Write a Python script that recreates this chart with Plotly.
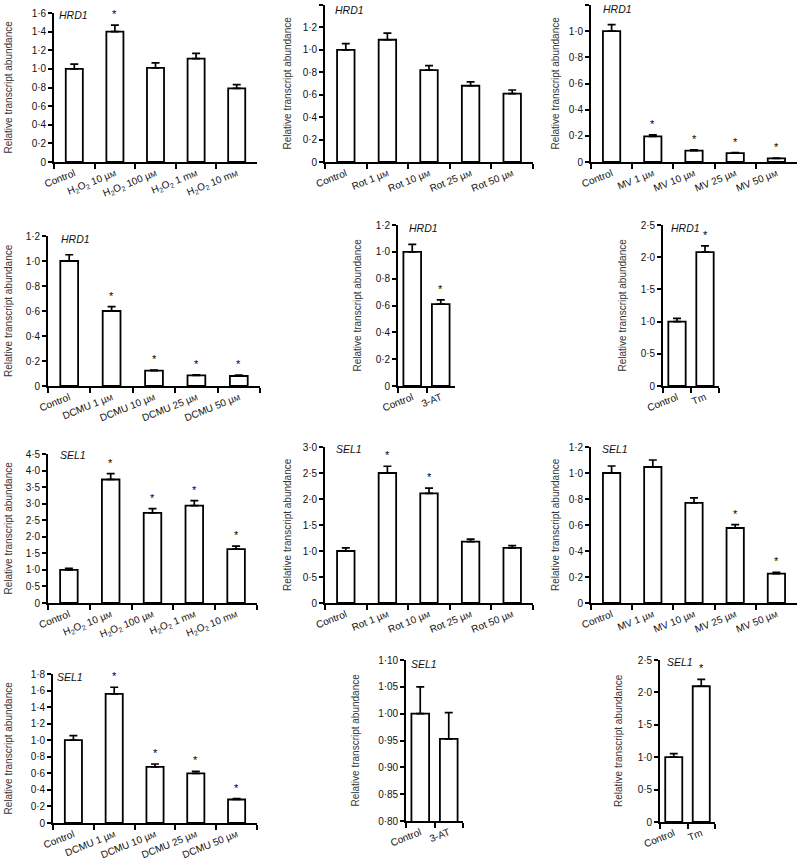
import plotly.graph_objects as go

# ---------------- data ----------------
M = "<span style='font-size:7.5px'>M</span>"
h2o2_cats = ["Control", f"H<sub>2</sub>O<sub>2</sub> 10 µ{M}", f"H<sub>2</sub>O<sub>2</sub> 100 µ{M}",
             f"H<sub>2</sub>O<sub>2</sub> 1 m{M}", f"H<sub>2</sub>O<sub>2</sub> 10 m{M}"]
rot_cats = ["Control", f"Rot 1 µ{M}", f"Rot 10 µ{M}", f"Rot 25 µ{M}", f"Rot 50 µ{M}"]
mv_cats = ["Control", f"MV 1 µ{M}", f"MV 10 µ{M}", f"MV 25 µ{M}", f"MV 50 µ{M}"]
dcmu_cats = ["Control", f"DCMU 1 µ{M}", f"DCMU 10 µ{M}", f"DCMU 25 µ{M}", f"DCMU 50 µ{M}"]
at_cats = ["Control", "3-AT"]
tm_cats = ["Control", "Tm"]

hrd1_h2o2_vals = [1.00, 1.40, 1.01, 1.11, 0.79]
hrd1_h2o2_errs = [0.05, 0.07, 0.055, 0.057, 0.04]
hrd1_h2o2_sig = [0, 1, 0, 0, 0]

hrd1_rot_vals = [1.00, 1.09, 0.82, 0.68, 0.61]
hrd1_rot_errs = [0.055, 0.06, 0.04, 0.035, 0.032]
hrd1_rot_sig = [0, 0, 0, 0, 0]

hrd1_mv_vals = [1.00, 0.196, 0.087, 0.068, 0.028]
hrd1_mv_errs = [0.05, 0.012, 0.005, 0.003, 0.002]
hrd1_mv_sig = [0, 1, 1, 1, 1]

hrd1_dcmu_vals = [1.00, 0.60, 0.123, 0.085, 0.08]
hrd1_dcmu_errs = [0.05, 0.035, 0.005, 0.004, 0.008]
hrd1_dcmu_sig = [0, 1, 1, 1, 1]

hrd1_at_vals = [1.00, 0.61]
hrd1_at_errs = [0.055, 0.032]
hrd1_at_sig = [0, 1]

hrd1_tm_vals = [1.00, 2.08]
hrd1_tm_errs = [0.05, 0.095]
hrd1_tm_sig = [0, 1]

sel1_h2o2_vals = [1.00, 3.73, 2.72, 2.94, 1.63]
sel1_h2o2_errs = [0.05, 0.18, 0.13, 0.15, 0.09]
sel1_h2o2_sig = [0, 1, 1, 1, 1]

sel1_rot_vals = [1.00, 2.50, 2.11, 1.18, 1.06]
sel1_rot_errs = [0.06, 0.13, 0.10, 0.05, 0.045]
sel1_rot_sig = [0, 1, 1, 0, 0]

sel1_mv_vals = [1.00, 1.046, 0.77, 0.577, 0.226]
sel1_mv_errs = [0.054, 0.054, 0.038, 0.026, 0.01]
sel1_mv_sig = [0, 0, 0, 1, 1]

sel1_dcmu_vals = [1.00, 1.56, 0.677, 0.60, 0.284]
sel1_dcmu_errs = [0.055, 0.08, 0.036, 0.025, 0.012]
sel1_dcmu_sig = [0, 1, 1, 1, 1]

sel1_at_vals = [1.00, 0.953]
sel1_at_errs = [0.05, 0.049]
sel1_at_sig = [0, 0]

sel1_tm_vals = [1.00, 2.095]
sel1_tm_errs = [0.055, 0.105]
sel1_tm_sig = [0, 1]

ticks_1_6 = [0, 0.2, 0.4, 0.6, 0.8, 1.0, 1.2, 1.4, 1.6]
ticks_1_4 = [0, 0.2, 0.4, 0.6, 0.8, 1.0, 1.2, 1.4]
ticks_1_2 = [0, 0.2, 0.4, 0.6, 0.8, 1.0, 1.2]
ticks_1_8 = [0, 0.2, 0.4, 0.6, 0.8, 1.0, 1.2, 1.4, 1.6, 1.8]
ticks_2_5 = [0, 0.5, 1.0, 1.5, 2.0, 2.5]
ticks_3_0 = [0, 0.5, 1.0, 1.5, 2.0, 2.5, 3.0]
ticks_4_5 = [0, 0.5, 1.0, 1.5, 2.0, 2.5, 3.0, 3.5, 4.0, 4.5]
ticks_sel1_at = [0.80, 0.85, 0.90, 0.95, 1.00, 1.05, 1.10]

ytitle = "Relative transcript abundance"


def fmt(v, nd):
    if v == 0:
        return "0"
    return f"{v:.{nd}f}".replace(".", "·")


# panel: gene, cats, vals, errs, sig, ticks, decimals, geometry (px)
panels = [
    ("HRD1", h2o2_cats, hrd1_h2o2_vals, hrd1_h2o2_errs, hrd1_h2o2_sig, ticks_1_6, 1,
     dict(x0=54, x1=257, yt=13, yb=162, tx=8, gx=57, gy=15)),
    ("HRD1", rot_cats, hrd1_rot_vals, hrd1_rot_errs, hrd1_rot_sig, ticks_1_4, 1,
     dict(x0=325, x1=533, yt=5, yb=162, tx=287, gx=333, gy=10)),
    ("HRD1", mv_cats, hrd1_mv_vals, hrd1_mv_errs, hrd1_mv_sig, ticks_1_2, 1,
     dict(x0=591, x1=797, yt=5, yb=162, tx=555, gx=601, gy=9)),
    ("HRD1", dcmu_cats, hrd1_dcmu_vals, hrd1_dcmu_errs, hrd1_dcmu_sig, ticks_1_2, 1,
     dict(x0=48, x1=260, yt=236, yb=386, tx=8, gx=59, gy=239)),
    ("HRD1", at_cats, hrd1_at_vals, hrd1_at_errs, hrd1_at_sig, ticks_1_2, 1,
     dict(x0=398, x1=455, yt=225, yb=386, tx=357, gx=407, gy=228)),
    ("HRD1", tm_cats, hrd1_tm_vals, hrd1_tm_errs, hrd1_tm_sig, ticks_2_5, 1,
     dict(x0=663, x1=719, yt=225, yb=386, tx=622, gx=669, gy=228)),
    ("SEL1", h2o2_cats, sel1_h2o2_vals, sel1_h2o2_errs, sel1_h2o2_sig, ticks_4_5, 1,
     dict(x0=48, x1=257, yt=454, yb=603, tx=8, gx=58, gy=455)),
    ("SEL1", rot_cats, sel1_rot_vals, sel1_rot_errs, sel1_rot_sig, ticks_3_0, 1,
     dict(x0=325, x1=533, yt=447, yb=603, tx=287, gx=334, gy=449)),
    ("SEL1", mv_cats, sel1_mv_vals, sel1_mv_errs, sel1_mv_sig, ticks_1_2, 1,
     dict(x0=591, x1=797, yt=447, yb=603, tx=555, gx=600, gy=449)),
    ("SEL1", dcmu_cats, sel1_dcmu_vals, sel1_dcmu_errs, sel1_dcmu_sig, ticks_1_8, 1,
     dict(x0=53, x1=257, yt=674, yb=823, tx=8, gx=55, gy=677)),
    ("SEL1", at_cats, sel1_at_vals, sel1_at_errs, sel1_at_sig, ticks_sel1_at, 2,
     dict(x0=406, x1=463, yt=660, yb=821, tx=355, gx=409, gy=664)),
    ("SEL1", tm_cats, sel1_tm_vals, sel1_tm_errs, sel1_tm_sig, ticks_2_5, 1,
     dict(x0=660, x1=715, yt=660, yb=822, tx=618, gx=665, gy=662)),
]

W, H = 800, 866
FONT = "Liberation Sans, Arial, Helvetica, sans-serif"
TXT = "#111111"

fig = go.Figure()
layout = {}
annotations = []

for i, (gene, cats, vals, errs, sig, ticks, nd, g) in enumerate(panels, start=1):
    xa = "x" if i == 1 else f"x{i}"
    ya = "y" if i == 1 else f"y{i}"
    n = len(cats)
    bw = 0.42 if n > 2 else 0.62
    fig.add_trace(go.Bar(
        x=cats, y=vals, xaxis=xa, yaxis=ya, width=bw,
        marker=dict(color="white", line=dict(color="black", width=1.8)),
        error_y=dict(type="data", array=errs, arrayminus=[0] * n, symmetric=False,
                     color="black", thickness=1.7, width=4),
        hoverinfo="skip",
    ))
    xkey = "xaxis" if i == 1 else f"xaxis{i}"
    ykey = "yaxis" if i == 1 else f"yaxis{i}"
    layout[xkey] = dict(
        domain=[g["x0"] / W, g["x1"] / W], anchor=ya, type="category",
        range=[-0.5, n - 0.5], tickson="boundaries", automargin=False,
        showline=True, linecolor="black", linewidth=1.7,
        ticks="outside", ticklen=5, tickwidth=1.6, tickcolor="black",
        showgrid=False, zeroline=False,
        tickangle=-22, tickfont=dict(size=10, color=TXT, family=FONT),
        fixedrange=True,
    )
    layout[ykey] = dict(
        domain=[1 - g["yb"] / H, 1 - g["yt"] / H], anchor=xa, automargin=False,
        range=[ticks[0], ticks[-1]], tickmode="array",
        tickvals=ticks, ticktext=[fmt(t, nd) for t in ticks],
        showline=True, linecolor="black", linewidth=1.7,
        ticks="outside", ticklen=4, tickwidth=1.6, tickcolor="black",
        showgrid=False, zeroline=False,
        tickfont=dict(size=10, color=TXT, family=FONT),
        fixedrange=True,
    )
    # y-axis title
    annotations.append(dict(
        text=ytitle, xref="paper", yref="paper",
        x=g["tx"] / W, y=1 - (g["yt"] + g["yb"]) / 2 / H,
        xanchor="center", yanchor="middle", textangle=-90, showarrow=False,
        font=dict(size=10, color="#333333", family=FONT),
    ))
    # gene label
    annotations.append(dict(
        text=f"<i>{gene}</i>", xref="paper", yref="paper",
        x=g["gx"] / W, y=1 - g["gy"] / H, xanchor="left", yanchor="middle",
        showarrow=False, font=dict(size=10.5, color=TXT, family=FONT),
    ))
    # significance asterisks
    for k in range(n):
        if sig[k]:
            annotations.append(dict(
                text="*", xref=xa, yref=ya, x=cats[k], y=vals[k] + errs[k],
                xanchor="center", yanchor="bottom", yshift=3, showarrow=False,
                font=dict(size=11, color="black", family=FONT),
            ))

fig.update_layout(
    width=W, height=H, autosize=False,
    margin=dict(l=0, r=0, t=0, b=0, pad=0),
    paper_bgcolor="white", plot_bgcolor="white",
    showlegend=False, annotations=annotations,
    font=dict(family=FONT, color=TXT),
    **layout,
)

fig.write_html("out.html", config={"displayModeBar": False},
               post_script="document.body.style.margin='0';document.body.style.overflow='hidden';")
